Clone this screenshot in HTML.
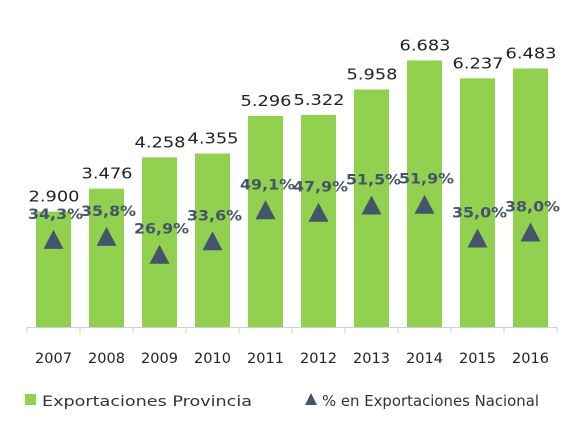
<!DOCTYPE html>
<html><head><meta charset="utf-8"><style>
body{margin:0;background:#fff;}
svg{display:block;font-family:"DejaVu Sans","Liberation Sans",sans-serif;}
</style></head><body>
<svg id="chart" width="588" height="435"></svg>
<script>
const years=["2007","2008","2009","2010","2011","2012","2013","2014","2015","2016"];
const exportValues=[2900,3476,4258,4355,5296,5322,5958,6683,6237,6483];
const exportLabels=["2.900","3.476","4.258","4.355","5.296","5.322","5.958","6.683","6.237","6.483"];
const pctValues=[34.3,35.8,26.9,33.6,49.1,47.9,51.5,51.9,35.0,38.0];
const pctLabels=["34,3%","35,8%","26,9%","33,6%","49,1%","47,9%","51,5%","51,9%","35,0%","38,0%"];
const svg=document.getElementById('chart');
const NS='http://www.w3.org/2000/svg';
const x0=27,cw=53,base=327.5;
const xc=i=>x0+cw*(i+0.5);
const yv=v=>base-v*(267/6683);
const yp=p=>308.5-p*2;
function mk(t,a,txt){const e=document.createElementNS(NS,t);for(const k in a)e.setAttribute(k,a[k]);if(txt!=null)e.textContent=txt;svg.appendChild(e);return e;}
years.forEach((y,i)=>{
  const b=mk('rect',{x:xc(i)-17.5,y:yv(exportValues[i]),width:35,height:base-yv(exportValues[i]),fill:'#92d050'});
  
  
  const l=mk('text',{x:xc(i)-25,y:yv(exportValues[i])-10,'font-size':15.5,fill:'#222',textLength:51,lengthAdjust:'spacingAndGlyphs'},exportLabels[i]);
  
  
  const cy=yp(pctValues[i]);
  const t=mk('polygon',{points:`${xc(i)},${cy-10} ${xc(i)-10},${cy+9} ${xc(i)+10},${cy+9}`,fill:'#44546a'});
  
  
  const pl=mk('text',{x:xc(i)-25.5,y:cy-21,'font-size':14,'font-weight':'bold',fill:'#44546a',textLength:55,lengthAdjust:'spacingAndGlyphs'},pctLabels[i]);
  
  
  const xl=mk('text',{x:xc(i),y:363,'text-anchor':'middle','font-size':14.5,fill:'#222'},y);
  
  
});
const ax=mk('line',{x1:x0,y1:base,x2:x0+cw*10,y2:base,stroke:'#d0d0d0','stroke-width':1});


for(let i=0;i<=10;i++){const tk=mk('line',{x1:x0+cw*i,y1:base,x2:x0+cw*i,y2:base+6,stroke:'#d0d0d0'});

}
</script>
<svg width="588" height="60" style="position:absolute;left:0;top:375px">
<rect x="25" y="19" width="11" height="11" fill="#92d050"/>
<text x="42" y="31" font-size="14.5" fill="#333" textLength="210" lengthAdjust="spacingAndGlyphs">Exportaciones Provincia</text>
<polygon points="311,18 305,30 317,30" fill="#44546a"/>
<text x="322" y="31" font-size="15" fill="#333" textLength="217" lengthAdjust="spacingAndGlyphs">% en Exportaciones Nacional</text>
</svg>
</body></html>
